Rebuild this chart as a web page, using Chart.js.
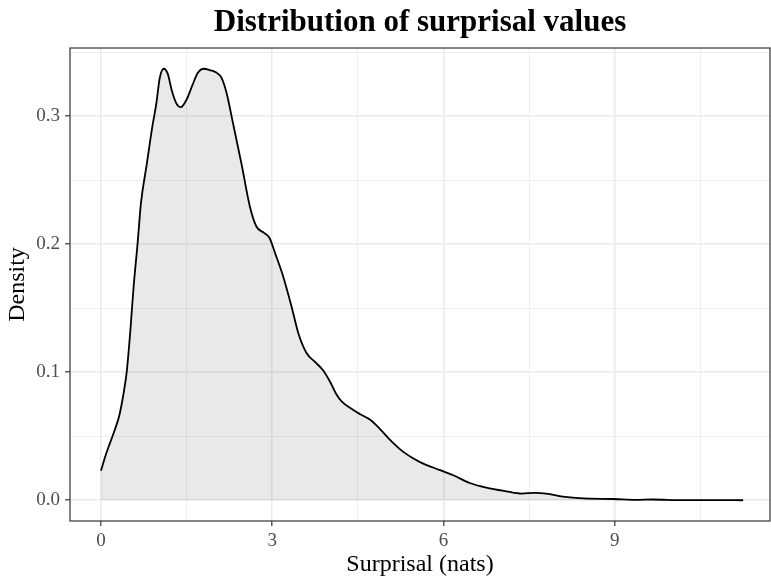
<!DOCTYPE html>
<html>
<head>
<meta charset="utf-8">
<title>Distribution of surprisal values</title>
<script src="https://cdn.jsdelivr.net/npm/chart.js@4.4.1/dist/chart.umd.min.js"></script>
<style>
  html, body { margin: 0; padding: 0; background: #fff; }
  canvas { display: block; }
</style>
</head>
<body>
<canvas id="grafico" width="771" height="580"></canvas>
<script>
// surprisal (nats) and density
const surprisal = [0.00, 0.08, 0.16, 0.25, 0.32, 0.39, 0.45, 0.51, 0.57, 0.64, 0.70, 0.80, 0.90, 0.97,
  1.03, 1.10, 1.17, 1.24, 1.32, 1.40, 1.50, 1.60, 1.70, 1.80, 1.90, 2.02, 2.11, 2.20, 2.31, 2.46,
  2.61, 2.72, 2.85, 2.95, 3.05, 3.19, 3.34, 3.46, 3.60, 3.75, 3.90, 4.02, 4.12, 4.22, 4.40, 4.55,
  4.71, 4.88, 5.09, 5.29, 5.58, 5.94, 6.17, 6.46, 6.75, 7.10, 7.37, 7.60, 7.80, 8.09, 8.45, 8.97,
  9.38, 9.65, 10.2, 10.8, 11.25];
const densidad = [0.023, 0.035, 0.045, 0.056, 0.066, 0.082, 0.100, 0.130, 0.166, 0.200, 0.232, 0.262, 0.292, 0.310,
  0.330, 0.337, 0.333, 0.320, 0.310, 0.307, 0.313, 0.324, 0.334, 0.337, 0.336, 0.334, 0.330, 0.318, 0.295, 0.263,
  0.229, 0.214, 0.209, 0.205, 0.193, 0.175, 0.151, 0.130, 0.115, 0.108, 0.101, 0.092, 0.083, 0.077, 0.071, 0.067,
  0.063, 0.056, 0.046, 0.038, 0.030, 0.0235, 0.0195, 0.0135, 0.0099, 0.007, 0.0052, 0.0058, 0.0052, 0.0028, 0.0014, 0.001,
  0.0003, 0.0006, 0.0001, 0.0001, 0.0];

const ticksX = [0, 1.5, 3, 4.5, 6, 7.5, 9, 10.5];
const ticksY = [0, 0.05, 0.1, 0.15, 0.2, 0.25, 0.3, 0.35];
const mayoresX = [0, 3, 6, 9];
const mayoresY = [0, 0.1, 0.2, 0.3];
const titulo = 'Distribution of surprisal values';

const esMayor = (v, lista) => lista.some(m => Math.abs(m - v) < 1e-9);
const serif = "'Liberation Serif', 'DejaVu Serif', serif";

// panel border like theme_bw, title centred over the panel (ggplot style)
const bordePanel = {
  id: 'bordePanel',
  afterDatasetsDraw(chart) {
    const { ctx, chartArea: a } = chart;
    ctx.save();
    ctx.strokeStyle = '#333333';
    ctx.lineWidth = 1.2;
    ctx.strokeRect(a.left, a.top, a.right - a.left, a.bottom - a.top);
    ctx.fillStyle = '#000';
    ctx.font = 'bold 31px ' + serif;
    ctx.textAlign = 'center';
    ctx.textBaseline = 'middle';
    ctx.fillText(titulo, (a.left + a.right) / 2, 23);
    ctx.restore();
  }
};

const puntos = surprisal.map((x, i) => ({ x, y: densidad[i] }));

new Chart(document.getElementById('grafico').getContext('2d'), {
  type: 'line',
  data: {
    datasets: [{
      data: puntos,
      borderColor: '#000000',
      borderWidth: 1.8,
      backgroundColor: 'rgba(0,0,0,0.085)',
      fill: 'origin',
      pointRadius: 0,
      tension: 0.4,
      cubicInterpolationMode: 'monotone'
    }]
  },
  options: {
    responsive: false,
    animation: false,
    layout: { padding: { right: 1, top: 48, left: 0, bottom: 0 } },
    plugins: {
      legend: { display: false },
      tooltip: { enabled: false },
      title: { display: false }
    },
    scales: {
      x: {
        type: 'linear',
        min: -0.543,
        max: 11.72,
        afterBuildTicks: s => { s.ticks = ticksX.map(v => ({ value: v })); },
        afterFit: s => { s.height = 59; },
        ticks: {
          autoSkip: false,
          maxRotation: 0,
          color: '#4D4D4D',
          padding: 4,
          font: { family: serif, size: 19 },
          callback: v => esMayor(v, mayoresX) ? String(v) : ''
        },
        grid: {
          color: '#EBEBEB',
          lineWidth: c => esMayor(c.tick.value, mayoresX) ? 1.6 : 0.8,
          tickColor: c => esMayor(c.tick.value, mayoresX) ? '#333333' : 'rgba(0,0,0,0)',
          tickLength: 5,
          tickWidth: 1.2
        },
        border: { display: false },
        title: {
          display: true,
          text: 'Surprisal (nats)',
          color: '#000',
          font: { family: serif, size: 24 },
          padding: { top: 0, bottom: 1 }
        }
      },
      y: {
        type: 'linear',
        min: -0.0162,
        max: 0.3532,
        afterBuildTicks: s => { s.ticks = ticksY.map(v => ({ value: v })); },
        afterFit: s => { s.width = 70; },
        ticks: {
          autoSkip: false,
          color: '#4D4D4D',
          padding: 5,
          font: { family: serif, size: 19 },
          callback: v => esMayor(v, mayoresY) ? v.toFixed(1) : ''
        },
        grid: {
          color: '#EBEBEB',
          lineWidth: c => esMayor(c.tick.value, mayoresY) ? 1.6 : 0.8,
          tickColor: c => esMayor(c.tick.value, mayoresY) ? '#333333' : 'rgba(0,0,0,0)',
          tickLength: 5,
          tickWidth: 1.2
        },
        border: { display: false },
        title: {
          display: true,
          text: 'Density',
          color: '#000',
          font: { family: serif, size: 24 },
          padding: { top: 3, bottom: 0 }
        }
      }
    }
  },
  plugins: [bordePanel]
});
</script>
</body>
</html>
